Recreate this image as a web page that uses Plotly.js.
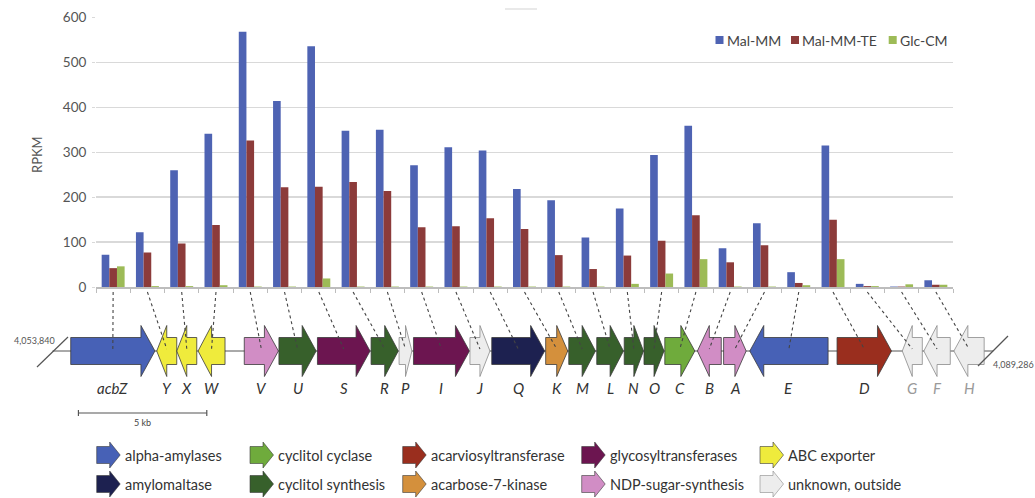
<!DOCTYPE html>
<html>
<head>
<meta charset="utf-8">
<script src="https://cdn.plot.ly/plotly-3.0.1.min.js"></script>
<style>html,body{margin:0;padding:0;background:#fff;}#chart{width:1035px;height:498px;}</style>
</head>
<body>
<div id="chart"></div>
<script>
// ---------------- DATA ----------------
const categories = ['acbZ','Y','X','W','V','U','S','R','P','I','J','Q','K','M','L','N','O','C','B','A','E','D','G','F','H'];
const seriesNames = ['Mal-MM','Mal-MM-TE','Glc-CM'];
const malMM   = [72,122,260,341,568,414,536,348,350,271,311,304,218,193,110,175,294,359,86,142,33,315,7,1,15];
const malMMTE = [42,77,97,138,326,222,223,234,214,133,135,153,129,71,40,70,103,160,55,93,9,150,2,1,5];
const glcCM   = [46,2,2,4,1,1,19,1,1,1,1,1,1,1,1,7,30,62,1,1,4,62,2,6,5];
const yTicks  = [0,100,200,300,400,500,600];

// gene map (kb from region start)
const geneStart  = [0.71,4.06,4.84,5.67,7.47,8.82,10.32,12.41,13.50,14.06,16.26,17.11,19.21,20.11,21.20,22.27,23.04,23.85,25.12,26.14,27.16,30.56,33.10,33.94,35.11];
const geneEnd    = [3.99,4.84,5.62,6.72,8.80,10.27,12.37,13.47,14.00,16.24,17.04,19.17,20.07,21.15,22.24,23.02,23.82,25.02,26.05,27.02,30.21,32.68,33.88,34.97,36.29];
const geneStrand = ['+','-','-','-','+','+','+','+','+','+','+','+','+','+','+','+','+','+','-','+','-','+','-','-','-'];
const geneClass  = ['alpha-amylases','ABC exporter','ABC exporter','ABC exporter','NDP-sugar-synthesis','cyclitol synthesis','glycosyltransferases','cyclitol synthesis','unknown, outside','glycosyltransferases','unknown, outside','amylomaltase','acarbose-7-kinase','cyclitol synthesis','cyclitol synthesis','cyclitol synthesis','cyclitol synthesis','cyclitol cyclase','NDP-sugar-synthesis','NDP-sugar-synthesis','alpha-amylases','acarviosyltransferase','unknown, outside','unknown, outside','unknown, outside'];
const geneOutside = ['G','F','H'];
const regionStartLabel = '4,053,840';
const regionEndLabel   = '4,089,286';
const scaleBarKb = 5;
const classNames = ['alpha-amylases','amylomaltase','cyclitol cyclase','cyclitol synthesis','acarviosyltransferase','acarbose-7-kinase','glycosyltransferases','NDP-sugar-synthesis','ABC exporter','unknown, outside'];

// ---------------- STYLE ----------------
const seriesColors = ['#4e63b3','#8c3b3a','#9dbb57'];
const classColors = {
  'alpha-amylases':'#4761b6','amylomaltase':'#1d2150','cyclitol cyclase':'#6fab3c',
  'cyclitol synthesis':'#37602b','acarviosyltransferase':'#9a2e1e','acarbose-7-kinase':'#d4903c',
  'glycosyltransferases':'#6c1550','NDP-sugar-synthesis':'#d18dc5','ABC exporter':'#efeb3c',
  'unknown, outside':'#ededed'
};
const W = 1035, H = 498;
const FONT = 'Lato, "Open Sans", sans-serif';
const barDom = [96/W, 953/W];
const barYDom = [(H-287)/H, (H-17.5)/H];
const mapRange = [-2.045, 38.27];        // kb span of full figure width
const pxPerKb = W/(mapRange[1]-mapRange[0]);
const kbToPx = kb => (kb - mapRange[0]) * pxPerKb;
const mapY = 351, bodyHalf = 13.5, headHalf = 25.5, headPx = 14;

const traces = [];
const barSeries = [malMM, malMMTE, glcCM];
barSeries.forEach((vals, k) => {
  traces.push({type:'bar', x:categories, y:vals, name:seriesNames[k],
    marker:{color:seriesColors[k]}, showlegend:false, hoverinfo:'skip', xaxis:'x', yaxis:'y'});
});

// dotted connector lines (pixel space)
const dx = [], dy = [];
categories.forEach((c,i) => {
  const top = (barDom[0] + (i+0.5)/categories.length*(barDom[1]-barDom[0]))*W;
  const gc = kbToPx((geneStart[i]+geneEnd[i])/2);
  dx.push(top, gc, null); dy.push(292, 349, null);
});

// backbone + slashes
const backboneEndKb = 36.64;
traces.push({type:'scatter', mode:'lines', x:[0, backboneEndKb], y:[mapY, mapY], xaxis:'x2', yaxis:'y2',
  line:{color:'#555', width:1}, hoverinfo:'skip', showlegend:false});
traces.push({type:'scatter', mode:'lines', x:[37,68,null,978,1008], y:[367,337,null,366,336], xaxis:'x3', yaxis:'y2',
  line:{color:'#555', width:1.2}, hoverinfo:'skip', showlegend:false});

// gene arrows
function arrowPoly(s, e, strand, yc, bh, hh, hlen) {
  const h = Math.min(hlen, 0.5*(e-s));
  if (strand === '+') {
    return {x:[s, e-h, e-h, e, e-h, e-h, s, s], y:[yc-bh, yc-bh, yc-hh, yc, yc+hh, yc+bh, yc+bh, yc-bh]};
  }
  return {x:[e, s+h, s+h, s, s+h, s+h, e, e], y:[yc-bh, yc-bh, yc-hh, yc, yc+hh, yc+bh, yc+bh, yc-bh]};
}
categories.forEach((g,i) => {
  const p = arrowPoly(geneStart[i], geneEnd[i], geneStrand[i], mapY, bodyHalf, headHalf, headPx/pxPerKb);
  const unk = geneClass[i] === 'unknown, outside';
  traces.push({type:'scatter', mode:'lines', x:p.x, y:p.y, xaxis:'x2', yaxis:'y2', fill:'toself',
    fillcolor:classColors[geneClass[i]], line:{color: unk ? '#8a8a8a' : '#3a3a3a', width:0.8},
    hoverinfo:'skip', showlegend:false});
});

traces.push({type:'scatter', mode:'lines', x:dx, y:dy, xaxis:'x3', yaxis:'y2',
  line:{color:'#444', width:1.1, dash:'dot'}, hoverinfo:'skip', showlegend:false});

// scale bar
const sb0 = 1.01;
traces.push({type:'scatter', mode:'lines', x:[sb0, sb0+scaleBarKb, null, sb0, sb0, null, sb0+scaleBarKb, sb0+scaleBarKb],
  y:[413,413,null,410,416,null,410,416], xaxis:'x2', yaxis:'y2', line:{color:'#555', width:1.2}, hoverinfo:'skip', showlegend:false});

// top legend squares
const topLegX = [719.5, 795, 892.7];
traces.push({type:'scatter', mode:'markers', x:topLegX, y:[40,40,40], xaxis:'x3', yaxis:'y2',
  marker:{symbol:'square', size:8, color:seriesColors}, hoverinfo:'skip', showlegend:false});

// bottom legend icons
const legColX = [96.7, 250, 402.7, 581.7, 760];
const legRowY = [455, 484];
const annotations = [];
classNames.forEach((cn, j) => {
  const col = Math.floor(j/2), row = j % 2;
  const x0 = legColX[col], yc = legRowY[row];
  const p = arrowPoly(x0, x0+23.5, '+', yc, 8.5, 13, 10.5);
  traces.push({type:'scatter', mode:'lines', x:p.x, y:p.y, xaxis:'x3', yaxis:'y2', fill:'toself',
    fillcolor:classColors[cn], line:{color: cn==='unknown, outside' ? '#8a8a8a' : '#3a3a3a', width:0.6},
    hoverinfo:'skip', showlegend:false});
  annotations.push({xref:'x3', yref:'y2', x:x0+26, y:yc, text:cn, showarrow:false, xanchor:'left', yanchor:'middle',
    font:{family:FONT, size:14.5, color:'#333'}});
});

// top legend text
seriesNames.forEach((n,k) => {
  annotations.push({xref:'x3', yref:'y2', x:topLegX[k]+5, y:40, text:n, showarrow:false, xanchor:'left', yanchor:'middle',
    font:{family:FONT, size:14, color:'#444'}});
});

// gene labels
categories.forEach((g,i) => {
  annotations.push({xref:'x2', yref:'y2', x:(geneStart[i]+geneEnd[i])/2, y:388, text:g, showarrow:false,
    xanchor:'center', yanchor:'middle',
    font:{family:FONT, size:15, style:'italic', color: geneOutside.includes(g) ? '#9a9a9a' : '#333'}});
});
annotations.push({xref:'x2', yref:'y2', x:sb0+scaleBarKb/2, y:422, text:scaleBarKb+' kb', showarrow:false,
  font:{family:FONT, size:9, color:'#444'}});
annotations.push({xref:'x3', yref:'y2', x:57, y:340, text:regionStartLabel, showarrow:false, xanchor:'right',
  font:{family:FONT, size:9, color:'#555'}});
annotations.push({xref:'x3', yref:'y2', x:991, y:364, text:regionEndLabel, showarrow:false, xanchor:'left',
  font:{family:FONT, size:9, color:'#555'}});
annotations.push({xref:'x3', yref:'y2', x:37, y:155, text:'RPKM', showarrow:false, textangle:-90,
  font:{family:FONT, size:13, color:'#555'}});

const layout = {
  width:W, height:H, margin:{l:0,r:0,t:0,b:0},
  paper_bgcolor:'#fff', plot_bgcolor:'rgba(0,0,0,0)',
  font:{family:FONT, color:'#555'},
  showlegend:false, barmode:'group', bargap:0.33, bargroupgap:0,
  xaxis:{domain:barDom, anchor:'y', type:'category', showticklabels:false, showgrid:false, zeroline:false,
    showline:true, linecolor:'#bdbdbd', linewidth:2, ticks:'outside', tickson:'boundaries', ticklen:4,
    tickcolor:'#bdbdbd', tickwidth:1, fixedrange:true},
  yaxis:{domain:barYDom, anchor:'x', range:[0,600], tickvals:yTicks, showgrid:true, gridcolor:'#d9d9d9', gridwidth:1.5,
    zeroline:false, showline:false, ticks:'outside', ticklen:3, tickcolor:'#d9d9d9',
    tickfont:{family:FONT, size:13.5, color:'#555'}, ticklabelstandoff:3, fixedrange:true},
  xaxis2:{domain:[0,1], anchor:'y2', range:mapRange, visible:false, fixedrange:true},
  yaxis2:{domain:[0,1], anchor:'x2', range:[H,0], visible:false, fixedrange:true},
  xaxis3:{domain:[0,1], anchor:'y2', range:[0,W], visible:false, overlaying:'x2', fixedrange:true},
  shapes:[{type:'line', xref:'x3', yref:'y2', x0:505, x1:537, y0:9, y1:9, line:{color:'#e2e2e2', width:1.5}}],
  annotations:annotations
};
Plotly.newPlot('chart', traces, layout, {staticPlot:true, displayModeBar:false});
</script>
</body>
</html>
